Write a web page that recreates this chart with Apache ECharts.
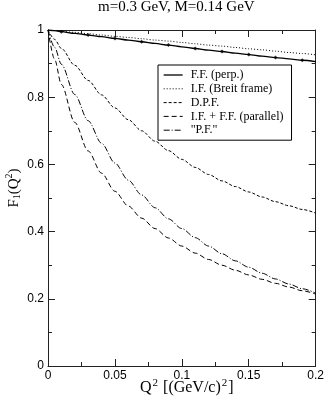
<!DOCTYPE html>
<html><head><meta charset="utf-8">
<script src="https://cdn.jsdelivr.net/npm/echarts@6/dist/echarts.min.js"></script>
<style>html,body{margin:0;padding:0;background:#fff}#c{width:327px;height:402px}</style>
</head><body><div id="c"></div>
<script>
const titleText = 'm=0.3 GeV, M=0.14 GeV';
const qGrid   = [0,0.005,0.01,0.02,0.03,0.04,0.05,0.06,0.07,0.08,0.09,0.10,0.11,0.12,0.13,0.14,0.15,0.16,0.17,0.18,0.19,0.20];
const ffPerp  = [1,0.998,0.995,0.990,0.985,0.980,0.975,0.970,0.965,0.960,0.955,0.950,0.945,0.940,0.936,0.931,0.927,0.922,0.918,0.914,0.910,0.906];
const ifBreit = [1,0.998,0.996,0.993,0.989,0.985,0.981,0.978,0.974,0.970,0.967,0.963,0.959,0.955,0.952,0.948,0.944,0.941,0.937,0.933,0.930,0.926];
const dpf     = [1,0.972,0.945,0.895,0.850,0.807,0.768,0.733,0.700,0.669,0.641,0.615,0.591,0.570,0.551,0.534,0.518,0.503,0.489,0.477,0.466,0.455];
const ifffPar = [1,0.912,0.838,0.725,0.640,0.574,0.520,0.476,0.440,0.409,0.381,0.357,0.336,0.317,0.300,0.285,0.271,0.258,0.246,0.235,0.224,0.214];
const pf      = [1,0.948,0.898,0.808,0.730,0.663,0.604,0.553,0.509,0.471,0.438,0.409,0.382,0.357,0.334,0.313,0.294,0.276,0.259,0.244,0.230,0.217];
const markerQ = [0.01,0.03,0.05,0.07,0.09,0.11,0.13,0.15,0.17,0.19];
const markerF = [0.995,0.985,0.975,0.965,0.955,0.945,0.936,0.927,0.918,0.910];
const seriesNames = ['F.F. (perp.)','I.F. (Breit frame)','D.P.F.','I.F. + F.F. (parallel)','"P.F."'];
const xTicks = [0,0.05,0.1,0.15,0.2];
const yTicks = [0,0.2,0.4,0.6,0.8,1];

const pair = (ys) => qGrid.map((q,i)=>[q,ys[i]]);
const serif = 'Liberation Serif';
const sans = 'Liberation Sans';
const ax = '#222';
const dashes = ['solid',[1,2],[3,2],[5,3],[6,2,1,2]];
const widths = [1.3,1,1,1,1];

function xAx(pos, show){
  return {type:'value', position:pos, min:0, max:0.2, interval:0.05,
    axisLine:{show:true, onZero:false, lineStyle:{color:ax,width:1}},
    axisTick:{show:true, inside:true, length:7, lineStyle:{color:ax}},
    minorTick:{show:true, splitNumber:2, length:4, lineStyle:{color:ax}},
    splitLine:{show:false},
    axisLabel:{show:show, margin:4, color:'#000', fontFamily:sans, fontSize:12,
      formatter:(v)=> xTicks.includes(+v.toFixed(3)) ? String(+v.toFixed(3)) : ''}};
}
function yAx(pos, show){
  return {type:'value', position:pos, min:0, max:1, interval:0.2,
    axisLine:{show:true, onZero:false, lineStyle:{color:ax,width:1}},
    axisTick:{show:true, inside:true, length:7, lineStyle:{color:ax}},
    minorTick:{show:true, splitNumber:2, length:4, lineStyle:{color:ax}},
    splitLine:{show:false},
    axisLabel:{show:show, margin:4, color:'#000', fontFamily:sans, fontSize:12,
      formatter:(v)=> yTicks.includes(+v.toFixed(2)) ? String(+v.toFixed(2)) : ''}};
}
function lineS(i, ys){
  return {name:seriesNames[i], type:'line', data:pair(ys), xAxisIndex:0, yAxisIndex:0,
    symbol:'none', smooth:0.3, smoothMonotone:'x', silent:true, animation:false,
    color:'#000', itemStyle:{color:'#000'},
    lineStyle:{color:'#000', width:widths[i], type:dashes[i]}};
}

const chart = echarts.init(document.getElementById('c'), null, {renderer:'canvas'});
chart.setOption({
  animation:false,
  backgroundColor:'#fff',
  title:{text:titleText, left:98, top:0, padding:0,
    textStyle:{fontFamily:serif, fontSize:15, fontWeight:'normal', color:'#000'}},
  grid:{left:48, right:9, top:30, bottom:36, containLabel:false},
  xAxis:[xAx('bottom', true), xAx('top', false)],
  yAxis:[yAx('left', true), yAx('right', false)],
  legend:{data:seriesNames.map((n,i)=>({name:n, lineStyle:{width:widths[i], type:dashes[i], color:'#000'}})),
    orient:'vertical', left:158, top:65,
    padding:[4,8,4,5], itemGap:1.8, itemWidth:19, itemHeight:12,
    borderColor:'#000', borderWidth:1, backgroundColor:'#fff', selectedMode:false,
    itemStyle:{opacity:0, borderWidth:0},
    lineStyle:{width:1},
    textStyle:{fontFamily:serif, fontSize:12, color:'#000', padding:[0,0,0,3]}},
  graphic:[
    {type:'text', left:140, top:378, style:{text:'Q{s|2} [(GeV/c){s|2}]', font:'16px "Liberation Serif"', fill:'#000',
      rich:{s:{fontFamily:serif, fontSize:11, padding:[0,1,9,1]}}}},
    {type:'text', x:14, y:188, rotation:Math.PI/2, style:{text:'F{b|1}(Q{s|2})', font:'15px "Liberation Serif"', fill:'#000',
      align:'center', verticalAlign:'middle',
      rich:{s:{fontFamily:serif, fontSize:10, padding:[0,0,9,0]}, b:{fontFamily:serif, fontSize:10, padding:[6,0,0,0]}}}}
  ],
  series:[
    lineS(0, ffPerp),
    lineS(1, ifBreit),
    lineS(2, dpf),
    lineS(3, ifffPar),
    lineS(4, pf),
    {name:'markers', type:'scatter', data:markerQ.map((q,i)=>[q,markerF[i]]), symbol:'diamond', symbolSize:4,
      itemStyle:{color:'#000'}, silent:true, animation:false}
  ]
});
</script></body></html>
